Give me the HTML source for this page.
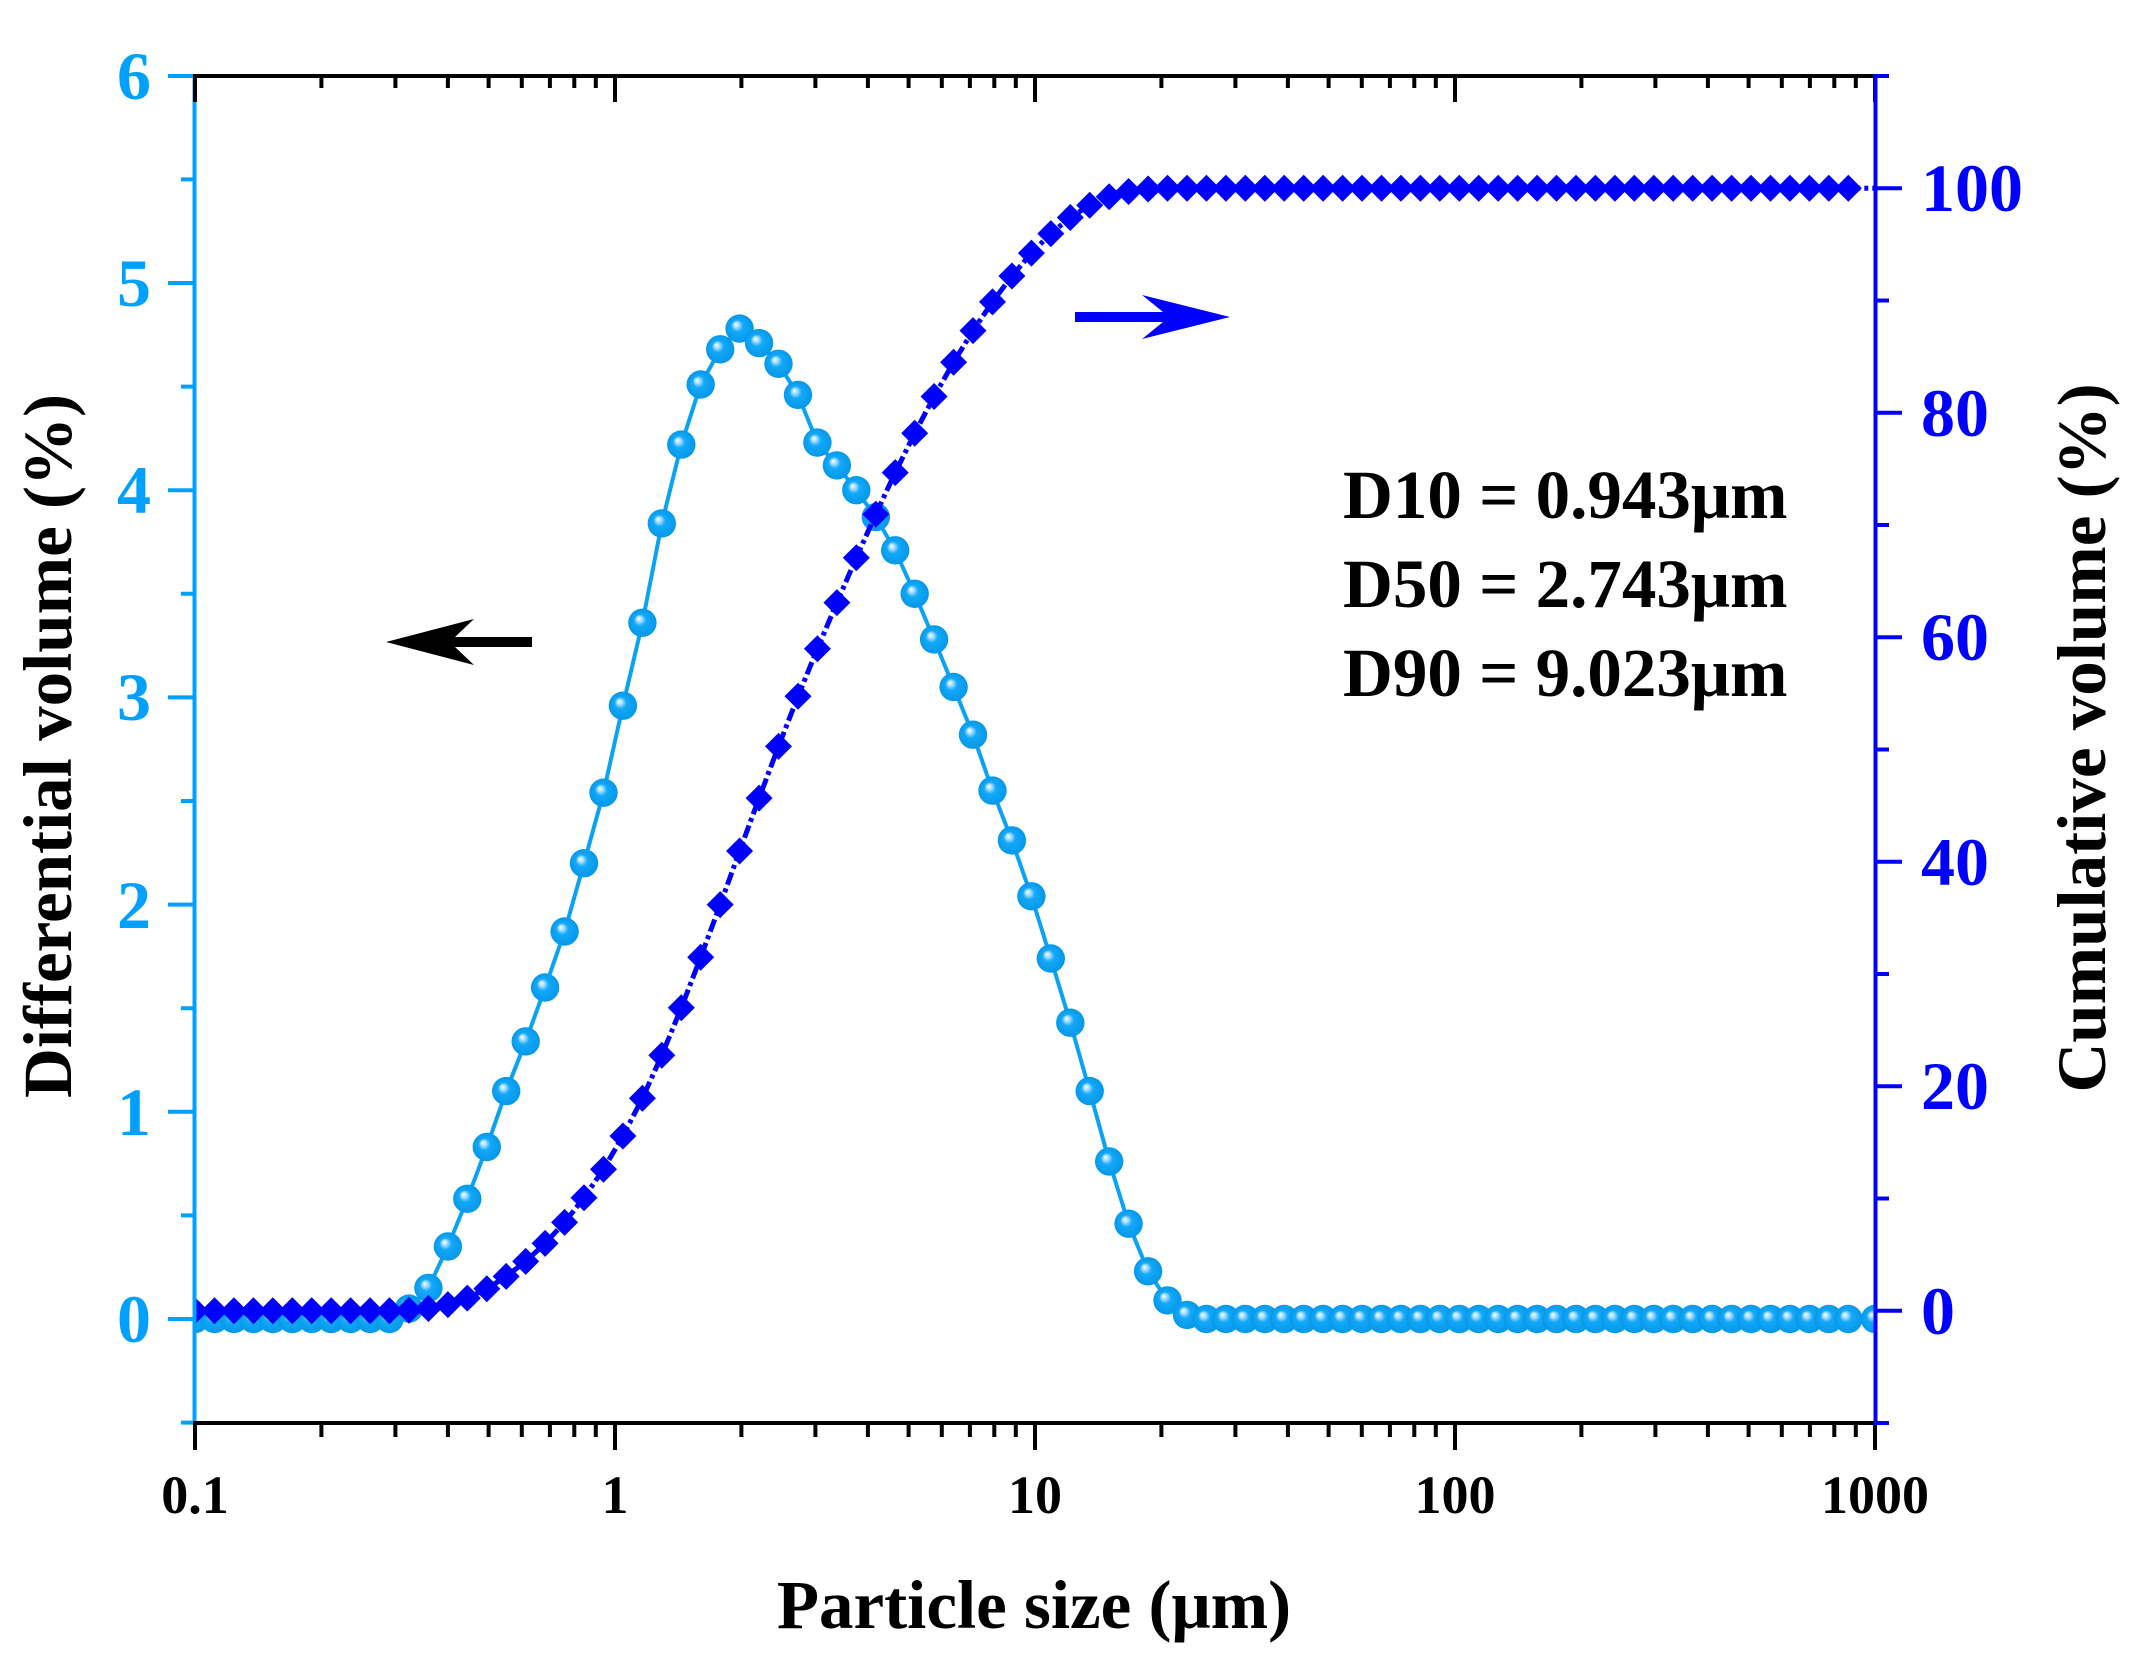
<!DOCTYPE html>
<html>
<head>
<meta charset="utf-8">
<style>
  html,body{margin:0;padding:0;background:#fff;}
  svg{display:block;}
  text{font-family:"Liberation Serif","Times New Roman",serif;font-weight:bold;}
</style>
</head>
<body>
<svg width="2145" height="1659" viewBox="0 0 2145 1659" xmlns="http://www.w3.org/2000/svg">
  <defs>
    <radialGradient id="sg" cx="0.5" cy="0.5" r="0.5" fx="0.36" fy="0.34">
      <stop offset="0" stop-color="#ffffff"/>
      <stop offset="0.2" stop-color="#9fdcff"/>
      <stop offset="0.42" stop-color="#14a8f8"/>
      <stop offset="1" stop-color="#0598ea"/>
    </radialGradient>
    <marker id="sph" markerWidth="32" markerHeight="32" refX="16" refY="16" markerUnits="userSpaceOnUse" overflow="visible">
      <circle cx="16" cy="16" r="14.2" fill="url(#sg)"/>
    </marker>
    <marker id="dia" markerWidth="30" markerHeight="30" refX="15" refY="15" markerUnits="userSpaceOnUse" overflow="visible">
      <polygon points="15,1.5 28.5,15 15,28.5 1.5,15" fill="#0000ff"/>
    </marker>
    <clipPath id="plot">
      <rect x="195" y="76" width="1680" height="1347"/>
    </clipPath>
  </defs>

  <rect width="2145" height="1659" fill="#fff"/>

  <g clip-path="url(#plot)">
    <!-- Differential volume (light blue spheres) -->
    <polyline fill="none" stroke="#0aa2f4" stroke-width="4" stroke-linejoin="round"
      marker-start="url(#sph)" marker-mid="url(#sph)" marker-end="url(#sph)"
      points="195,1319 214.5,1319 233.9,1319 253.4,1319 272.8,1319 292.3,1319 311.7,1319 331.2,1319 350.6,1319 370.1,1319 389.5,1319 409,1308.6 428.4,1287.9 447.9,1246.5 467.3,1198.8 486.8,1147 506.2,1091.1 525.7,1041.4 545.1,987.5 564.6,931.5 584,863.2 603.5,792.7 622.9,705.7 642.4,622.8 661.8,523.4 681.3,444.6 700.7,384.5 720.2,349.3 739.6,328.6 759.1,343.1 778.5,363.8 798,394.9 817.4,442.6 836.9,465.4 856.3,490.2 875.8,517.1 895.2,550.3 914.7,593.8 934.1,639.4 953.6,687 973,734.7 992.5,790.6 1011.9,840.4 1031.4,896.3 1050.8,958.5 1070.3,1022.7 1089.7,1091.1 1109.2,1161.5 1128.6,1223.7 1148.1,1271.3 1167.5,1300.4 1187,1314.9 1206.4,1319 1225.9,1319 1245.3,1319 1264.8,1319 1284.2,1319 1303.7,1319 1323.1,1319 1342.6,1319 1362,1319 1381.5,1319 1400.9,1319 1420.4,1319 1439.8,1319 1459.3,1319 1478.7,1319 1498.2,1319 1517.6,1319 1537.1,1319 1556.5,1319 1576,1319 1595.4,1319 1614.9,1319 1634.3,1319 1653.8,1319 1673.2,1319 1692.7,1319 1712.1,1319 1731.6,1319 1751,1319 1770.5,1319 1789.9,1319 1809.4,1319 1828.8,1319 1848.3,1319 1875,1319"/>

    <!-- Cumulative volume (blue diamonds) -->
    <line x1="1848.3" y1="188.3" x2="1876" y2="188.3" stroke="#0000ff" stroke-width="5" stroke-dasharray="12 4 4 4"/>
    <polyline fill="none" stroke="#0000ff" stroke-width="5" stroke-dasharray="13 4 4 4" stroke-linejoin="round"
      marker-start="url(#dia)" marker-mid="url(#dia)" marker-end="url(#dia)"
      points="195,1310.8 214.5,1310.8 233.9,1310.8 253.4,1310.8 272.8,1310.8 292.3,1310.8 311.7,1310.8 331.2,1310.8 350.6,1310.8 370.1,1310.8 389.5,1310.8 409,1310.2 428.4,1308.5 447.9,1304.6 467.3,1298.1 486.8,1288.8 506.2,1276.4 525.7,1261.4 545.1,1243.4 564.6,1222.4 584,1197.7 603.5,1169.2 622.9,1136 642.4,1098.3 661.8,1055.2 681.3,1007.8 700.7,957.2 720.2,904.6 739.6,851 759.1,798.1 778.5,746.4 798,696.3 817.4,648.8 836.9,602.6 856.3,557.7 875.8,514.2 895.2,472.6 914.7,433.3 934.1,396.5 953.6,362.2 973,330.6 992.5,301.9 1011.9,276 1031.4,253.1 1050.8,233.6 1070.3,217.5 1089.7,205.2 1109.2,196.7 1128.6,191.5 1148.1,189 1167.5,188.3 1187,188.3 1206.4,188.3 1225.9,188.3 1245.3,188.3 1264.8,188.3 1284.2,188.3 1303.7,188.3 1323.1,188.3 1342.6,188.3 1362,188.3 1381.5,188.3 1400.9,188.3 1420.4,188.3 1439.8,188.3 1459.3,188.3 1478.7,188.3 1498.2,188.3 1517.6,188.3 1537.1,188.3 1556.5,188.3 1576,188.3 1595.4,188.3 1614.9,188.3 1634.3,188.3 1653.8,188.3 1673.2,188.3 1692.7,188.3 1712.1,188.3 1731.6,188.3 1751,188.3 1770.5,188.3 1789.9,188.3 1809.4,188.3 1828.8,188.3 1848.3,188.3"/>
  </g>

  <!-- Left axis (light blue) -->
  <g stroke="#00a0ff" stroke-width="4" fill="none">
    <line x1="194.5" y1="76" x2="194.5" y2="1425"/>
    <path d="M194,76H168 M194,283H168 M194,490.2H168 M194,697.4H168 M194,904.6H168 M194,1111.8H168 M194,1319H168
             M194,179.4H181 M194,386.6H181 M194,593.8H181 M194,801H181 M194,1008.2H181 M194,1215.4H181 M194,1422.6H181"/>
  </g>

  <!-- Top & bottom axes (black) -->
  <g stroke="#000" stroke-width="4" fill="none">
    <line x1="193" y1="76" x2="1877" y2="76"/>
    <line x1="193" y1="1423" x2="1877" y2="1423"/>
    <!-- top ticks (inward) -->
    <path d="M195,76V102 M615,76V102 M1035,76V102 M1455,76V102 M1875,76V102
             M321.4,76V88 M395.4,76V88 M447.9,76V88 M488.6,76V88 M521.8,76V88 M549.9,76V88 M574.3,76V88 M595.8,76V88
             M741.4,76V88 M815.4,76V88 M867.9,76V88 M908.6,76V88 M941.8,76V88 M969.9,76V88 M994.3,76V88 M1015.8,76V88
             M1161.4,76V88 M1235.4,76V88 M1287.9,76V88 M1328.6,76V88 M1361.8,76V88 M1389.9,76V88 M1414.3,76V88 M1435.8,76V88
             M1581.4,76V88 M1655.4,76V88 M1707.9,76V88 M1748.6,76V88 M1781.8,76V88 M1809.9,76V88 M1834.3,76V88 M1855.8,76V88"/>
    <!-- bottom ticks (outward) -->
    <path d="M195,1423V1450 M615,1423V1450 M1035,1423V1450 M1455,1423V1450 M1875,1423V1450
             M321.4,1423V1437 M395.4,1423V1437 M447.9,1423V1437 M488.6,1423V1437 M521.8,1423V1437 M549.9,1423V1437 M574.3,1423V1437 M595.8,1423V1437
             M741.4,1423V1437 M815.4,1423V1437 M867.9,1423V1437 M908.6,1423V1437 M941.8,1423V1437 M969.9,1423V1437 M994.3,1423V1437 M1015.8,1423V1437
             M1161.4,1423V1437 M1235.4,1423V1437 M1287.9,1423V1437 M1328.6,1423V1437 M1361.8,1423V1437 M1389.9,1423V1437 M1414.3,1423V1437 M1435.8,1423V1437
             M1581.4,1423V1437 M1655.4,1423V1437 M1707.9,1423V1437 M1748.6,1423V1437 M1781.8,1423V1437 M1809.9,1423V1437 M1834.3,1423V1437 M1855.8,1423V1437"/>
  </g>

  <!-- Right axis (blue) -->
  <g stroke="#0000ff" stroke-width="4" fill="none">
    <line x1="1875.5" y1="74" x2="1875.5" y2="1425"/>
    <path d="M1876,188.25H1902 M1876,412.75H1902 M1876,637.25H1902 M1876,861.75H1902 M1876,1086.25H1902 M1876,1310.75H1902
             M1876,76H1889 M1876,300.5H1889 M1876,525H1889 M1876,749.5H1889 M1876,974H1889 M1876,1198.5H1889 M1876,1423H1889"/>
  </g>

  <!-- Left tick labels -->
  <g fill="#00a0ff" font-size="68" text-anchor="end">
    <text x="151" y="99">6</text>
    <text x="151" y="306">5</text>
    <text x="151" y="513">4</text>
    <text x="151" y="720">3</text>
    <text x="151" y="928">2</text>
    <text x="151" y="1135">1</text>
    <text x="151" y="1342">0</text>
  </g>

  <!-- Right tick labels -->
  <g fill="#0000ff" font-size="68" text-anchor="start">
    <text x="1921" y="211">100</text>
    <text x="1921" y="436">80</text>
    <text x="1921" y="660">60</text>
    <text x="1921" y="885">40</text>
    <text x="1921" y="1109">20</text>
    <text x="1921" y="1334">0</text>
  </g>

  <!-- Bottom tick labels -->
  <g fill="#000" font-size="54" text-anchor="middle">
    <text x="195" y="1513">0.1</text>
    <text x="615" y="1513">1</text>
    <text x="1035" y="1513">10</text>
    <text x="1455" y="1513">100</text>
    <text x="1875" y="1513">1000</text>
  </g>

  <!-- Axis titles -->
  <text x="1034" y="1628" font-size="69" text-anchor="middle" fill="#000">Particle size (μm)</text>
  <text transform="translate(71,746) rotate(-90)" font-size="69" text-anchor="middle" fill="#000">Differential volume (%)</text>
  <text transform="translate(2105,738) rotate(-90)" font-size="69" text-anchor="middle" fill="#000">Cumulative volume (%)</text>

  <!-- D values -->
  <g fill="#000" font-size="69">
    <text x="1343" y="518">D10 = 0.943μm</text>
    <text x="1343" y="607">D50 = 2.743μm</text>
    <text x="1343" y="696">D90 = 9.023μm</text>
  </g>

  <!-- Arrows -->
  <path d="M386,642 L474,619 L455,637 L532,637 L532,647 L455,647 L474,665 Z" fill="#000"/>
  <path d="M1230,317 L1142,295 L1163,312 L1075,312 L1075,322 L1163,322 L1142,339 Z" fill="#0000ff"/>
</svg>
</body>
</html>
